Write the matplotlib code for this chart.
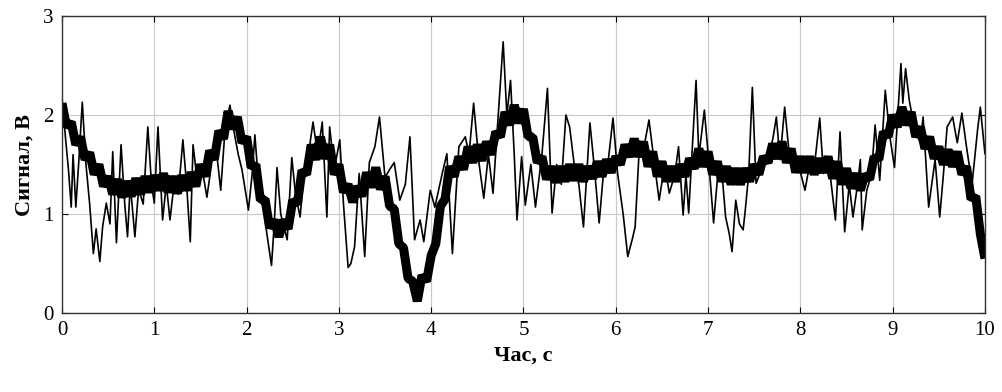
import numpy as np
from matplotlib import pyplot as plt

thickTime = np.arange(201) * 0.05
thickSignal = [
    2.12, 1.88, 1.93, 1.70, 1.78, 1.55, 1.62, 1.40, 1.50, 1.28,
    1.38, 1.20, 1.35, 1.17, 1.33, 1.18, 1.36, 1.20, 1.38, 1.22,
    1.39, 1.24, 1.41, 1.22, 1.38, 1.21, 1.39, 1.24, 1.42, 1.28,
    1.50, 1.38, 1.64, 1.55, 1.84, 1.76, 2.04, 1.86, 1.98, 1.72,
    1.78, 1.47, 1.50, 1.14, 1.15, 0.86, 0.94, 0.77, 0.94, 0.85,
    1.14, 1.10, 1.44, 1.40, 1.70, 1.55, 1.78, 1.56, 1.70, 1.40,
    1.50, 1.22, 1.30, 1.12, 1.28, 1.18, 1.42, 1.27, 1.47, 1.25,
    1.38, 1.08, 1.05, 0.70, 0.66, 0.35, 0.32, 0.12, 0.38, 0.32,
    0.58, 0.70, 1.08, 1.15, 1.48, 1.38, 1.58, 1.45, 1.68, 1.52,
    1.70, 1.54, 1.73, 1.60, 1.83, 1.78, 2.03, 1.90, 2.10, 1.92,
    2.06, 1.78, 1.78, 1.52, 1.58, 1.35, 1.48, 1.32, 1.48, 1.33,
    1.50, 1.34, 1.50, 1.33, 1.48, 1.36, 1.53, 1.38, 1.55, 1.42,
    1.58, 1.50, 1.70, 1.58, 1.76, 1.58, 1.73, 1.48, 1.63, 1.38,
    1.53, 1.33, 1.48, 1.33, 1.50, 1.38, 1.56, 1.46, 1.66, 1.48,
    1.63, 1.40, 1.53, 1.33, 1.48, 1.30, 1.46, 1.30, 1.46, 1.33,
    1.50, 1.40, 1.58, 1.52, 1.71, 1.56, 1.73, 1.52, 1.66, 1.42,
    1.58, 1.42, 1.58, 1.40, 1.56, 1.42, 1.58, 1.36, 1.53, 1.30,
    1.46, 1.26, 1.41, 1.24, 1.40, 1.35, 1.58, 1.55, 1.83, 1.78,
    2.00, 1.88, 2.08, 1.90, 2.03, 1.78, 1.88, 1.66, 1.78, 1.56,
    1.68, 1.50, 1.65, 1.48, 1.63, 1.40, 1.48, 1.15, 1.18, 0.80,
    0.55,
]

# thin spiky trace, irregular readings (time, value)
thinTime = [
    0.00, 0.04, 0.07, 0.10, 0.12, 0.15, 0.18, 0.22, 0.26, 0.30,
    0.34, 0.37, 0.41, 0.44, 0.48, 0.52, 0.55, 0.59, 0.64, 0.68,
    0.71, 0.74, 0.79, 0.83, 0.88, 0.93, 0.97, 1.00, 1.04, 1.09,
    1.13, 1.17, 1.22, 1.26, 1.31, 1.35, 1.39, 1.42, 1.47, 1.52,
    1.57, 1.62, 1.66, 1.72, 1.77, 1.82, 1.86, 1.91, 1.95, 2.02,
    2.06, 2.09, 2.13, 2.18, 2.22, 2.27, 2.30, 2.33, 2.37, 2.41,
    2.44, 2.49, 2.53, 2.58, 2.62, 2.67, 2.72, 2.77, 2.82, 2.87,
    2.90, 2.95, 3.01, 3.05, 3.10, 3.13, 3.17, 3.22, 3.28, 3.33,
    3.39, 3.44, 3.50, 3.55, 3.60, 3.66, 3.72, 3.77, 3.82, 3.88,
    3.92, 3.99, 4.04, 4.12, 4.17, 4.23, 4.30, 4.37, 4.41, 4.46,
    4.52, 4.57, 4.62, 4.67, 4.72, 4.78, 4.82, 4.86, 4.90, 4.93,
    4.98, 5.02, 5.08, 5.13, 5.20, 5.26, 5.31, 5.36, 5.41, 5.46,
    5.50, 5.55, 5.60, 5.65, 5.72, 5.77, 5.82, 5.87, 5.92, 5.97,
    6.02, 6.08, 6.13, 6.18, 6.21, 6.25, 6.31, 6.36, 6.42, 6.47,
    6.53, 6.58, 6.64, 6.68, 6.73, 6.76, 6.79, 6.87, 6.90, 6.96,
    7.01, 7.06, 7.11, 7.16, 7.19, 7.23, 7.26, 7.30, 7.34, 7.38,
    7.40, 7.44, 7.48, 7.52, 7.58, 7.65, 7.70, 7.74, 7.78, 7.83,
    7.88, 7.93, 7.98, 8.05, 8.10, 8.16, 8.21, 8.25, 8.31, 8.38,
    8.43, 8.48, 8.53, 8.57, 8.62, 8.65, 8.67, 8.72, 8.77, 8.81,
    8.86, 8.92, 8.97, 9.02, 9.09, 9.11, 9.14, 9.18, 9.24, 9.30,
    9.33, 9.39, 9.46, 9.51, 9.55, 9.59, 9.65, 9.70, 9.75, 9.80,
    9.86, 9.92, 9.95, 10.00,
]
thinSignal = [
    2.18, 1.75, 1.45, 1.07, 1.60, 1.07, 1.50, 2.13, 1.50, 1.10,
    0.60, 0.85, 0.52, 0.87, 1.11, 0.90, 1.63, 0.71, 1.70, 1.10,
    0.77, 1.30, 0.77, 1.25, 1.10, 1.88, 1.30, 1.11, 1.88, 0.94,
    1.30, 0.94, 1.35, 1.20, 1.75, 1.30, 0.72, 1.70, 1.30, 1.45,
    1.17, 1.50, 1.75, 1.24, 1.90, 2.10, 1.85, 1.60, 1.45, 1.04,
    1.40, 1.80, 1.30, 1.10, 0.80, 0.48, 0.90, 1.47, 1.00, 0.85,
    0.74, 1.57, 1.20, 0.97, 1.40, 1.60, 1.93, 1.60, 1.93, 0.97,
    1.88, 1.45, 1.75, 1.10, 0.46, 0.50, 0.67, 1.41, 0.57, 1.52,
    1.68, 1.98, 1.37, 1.45, 1.52, 1.14, 1.30, 1.78, 0.74, 0.94,
    0.72, 1.24, 1.07, 1.41, 1.61, 0.60, 1.68, 1.78, 1.60, 2.12,
    1.50, 1.16, 1.60, 1.21, 1.90, 2.74, 2.00, 2.35, 1.60, 0.94,
    1.58, 1.09, 1.50, 1.07, 1.60, 2.27, 1.01, 1.50, 1.30, 2.00,
    1.88, 1.50, 1.30, 0.87, 1.92, 1.45, 0.91, 1.45, 1.55, 1.97,
    1.41, 1.00, 0.57, 0.75, 0.87, 1.58, 1.70, 1.95, 1.50, 1.14,
    1.50, 1.21, 1.40, 1.68, 0.99, 1.40, 1.01, 2.35, 1.58, 2.05,
    1.50, 0.91, 1.45, 1.31, 0.97, 0.80, 0.62, 1.14, 0.90, 0.84,
    1.01, 1.40, 2.28, 1.31, 1.45, 1.60, 1.75, 1.98, 1.55, 2.08,
    1.60, 1.44, 1.50, 1.24, 1.50, 1.55, 1.97, 1.41, 1.50, 0.94,
    1.83, 0.82, 1.30, 0.97, 1.30, 1.55, 0.84, 1.24, 1.40, 1.90,
    1.34, 2.25, 1.78, 1.47, 2.52, 2.12, 2.47, 2.15, 1.85, 1.72,
    1.98, 1.07, 1.55, 0.97, 1.40, 1.88, 1.98, 1.72, 2.02, 1.68,
    1.30, 1.85, 2.08, 1.61,
]

xTicks = [0, 1, 2, 3, 4, 5, 6, 7, 8, 9, 10]
yTicks = [0, 1, 2, 3]

plt.rcParams['font.family'] = ['Liberation Serif', 'DejaVu Serif']

fig = plt.figure(figsize=(10.03, 3.92), dpi=100)
ax1 = fig.add_axes([0.0618, 0.2015, 0.9202, 0.7575])

ax1.plot(thinTime, thinSignal, color='black', linewidth=1.2)
# thick band: wide line so the dense jitter merges into one black strip
ax1.plot(thickTime, thickSignal, color='black', linewidth=6.5,
         solid_joinstyle='bevel', solid_capstyle='butt')

ax1.set_xlim(0, 10)
ax1.set_ylim(0, 3)
ax1.set_xticks(xTicks)
ax1.set_yticks(yTicks)
ax1.grid(True, color='#c8c8c8', linewidth=0.8)
ax1.tick_params(direction='in', top=True, right=True, length=4,
                labelsize=15, pad=6)
for sp in ax1.spines.values():
    sp.set_linewidth(1.0)
    sp.set_color('#333333')

ax1.set_xlabel('Час, с', fontsize=16, fontweight='bold', labelpad=4)
ax1.set_ylabel('Сигнал, В', fontsize=16, fontweight='bold', labelpad=6)

fig.savefig('out.png', dpi=100)
